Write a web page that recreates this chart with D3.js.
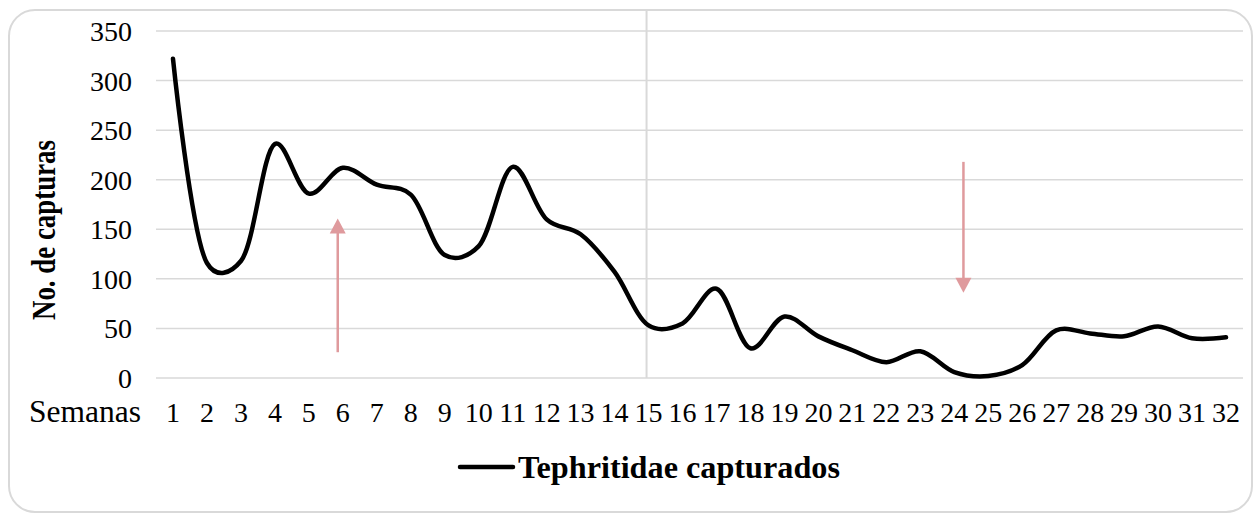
<!DOCTYPE html>
<html><head><meta charset="utf-8">
<script src="https://cdn.jsdelivr.net/npm/d3@7"></script>
<style>html,body{margin:0;padding:0;background:#fff;}svg{display:block;}</style>
</head><body>
<svg id="c" width="1256" height="514"></svg>
<script>
const weeks = d3.range(1, 33).map(String);
const captures = [322, 116, 118, 236, 186, 212, 195, 185, 124, 133, 213, 160, 145, 107, 53, 55, 90, 30, 62, 42, 28, 16, 27, 6, 2, 13, 48, 45, 42, 52, 40, 41];
const yTicks = [0, 50, 100, 150, 200, 250, 300, 350];
const seriesName = "Tephritidae capturados";
const xTitle = "Semanas";
const yTitle = "No. de capturas";
const refWeek = "15";
const arrows = [ {week: 5.85, from: 26, to: 161}, {week: 24.27, from: 218, to: 86} ];

const svg = d3.select("#c");
const W = 1256, H = 514;
const m = {left: 156, right: 13, top: 31, bottom: 136};

svg.append("rect").attr("x", 9).attr("y", 10).attr("width", 1243).attr("height", 502)
  .attr("rx", 26).attr("fill", "#fff").attr("stroke", "#d9d9d9").attr("stroke-width", 2);

const x = d3.scaleBand().domain(weeks).range([m.left, W - m.right]).padding(0);
const y = d3.scaleLinear().domain([0, 350]).range([H - m.bottom, m.top]);
const xc = w => x(w) + x.bandwidth() / 2;
const xNum = v => m.left + (v - 0.5) * x.bandwidth();

// gridlines
svg.append("g").selectAll("line").data(yTicks).join("line")
  .attr("x1", m.left).attr("x2", W - m.right)
  .attr("y1", d => y(d)).attr("y2", d => y(d))
  .attr("stroke", "#d9d9d9").attr("stroke-width", 1.5);

// reference vertical line
svg.append("line").attr("x1", xc(refWeek) - 2).attr("x2", xc(refWeek) - 2)
  .attr("y1", 11).attr("y2", y(0)).attr("stroke", "#d9d9d9").attr("stroke-width", 2);

// y axis
const yAxis = svg.append("g").attr("transform", `translate(${m.left - 24},0)`)
  .call(d3.axisLeft(y).tickValues(yTicks).tickSize(0).tickPadding(0));
yAxis.select(".domain").remove();
yAxis.selectAll("text").attr("font-family", "'Liberation Serif', 'Times New Roman', serif")
  .attr("font-size", 28).attr("fill", "#000").attr("dy", "0.34em");

// x axis
const xAxis = svg.append("g").attr("transform", `translate(0,${y(0)})`)
  .call(d3.axisBottom(x).tickSize(0).tickPadding(0));
xAxis.select(".domain").remove();
xAxis.selectAll("text").attr("font-family", "'Liberation Serif', 'Times New Roman', serif")
  .attr("font-size", 28).attr("fill", "#000").attr("dy", null).attr("y", 44);

svg.append("text").attr("x", 29).attr("y", 422).text(xTitle)
  .attr("font-family", "'Liberation Serif', 'Times New Roman', serif").attr("font-size", 31).attr("fill", "#000")
  .attr("textLength", 112).attr("lengthAdjust", "spacingAndGlyphs");

svg.append("text").attr("transform", "translate(55,230) rotate(-90)").attr("text-anchor", "middle")
  .text(yTitle).attr("font-family", "'Liberation Serif', 'Times New Roman', serif")
  .attr("font-weight", "bold").attr("font-size", 33).attr("fill", "#000")
  .attr("textLength", 180).attr("lengthAdjust", "spacingAndGlyphs");

// line
const line = d3.line().x((d, i) => xc(weeks[i])).y(d => y(d)).curve(d3.curveCatmullRom.alpha(0.25));
svg.append("path").datum(captures).attr("d", line).attr("fill", "none")
  .attr("stroke", "#000").attr("stroke-width", 4.5).attr("stroke-linecap", "round").attr("stroke-linejoin", "round");

// arrows
const ac = "#df9a9d";
arrows.forEach(a => {
  const ax = xNum(a.week), y0 = y(a.from), y1 = y(a.to);
  const dir = y1 < y0 ? 1 : -1; // 1 = pointing up
  const headH = 15, headW = 8;
  svg.append("line").attr("x1", ax).attr("x2", ax).attr("y1", y0).attr("y2", y1 + dir * headH * 0.7)
    .attr("stroke", ac).attr("stroke-width", 2.5);
  svg.append("path").attr("d", `M${ax},${y1} L${ax - headW},${y1 + dir * headH} L${ax + headW},${y1 + dir * headH} Z`)
    .attr("fill", ac);
});

// legend
const lg = svg.append("g");
lg.append("line").attr("x1", 460).attr("x2", 513).attr("y1", 467).attr("y2", 467)
  .attr("stroke", "#000").attr("stroke-width", 4.5).attr("stroke-linecap", "round");
lg.append("text").attr("x", 518).attr("y", 478).text(seriesName)
  .attr("font-family", "'Liberation Serif', 'Times New Roman', serif").attr("font-weight", "bold")
  .attr("font-size", 31).attr("fill", "#000").attr("textLength", 322).attr("lengthAdjust", "spacingAndGlyphs");
</script>
</body></html>
